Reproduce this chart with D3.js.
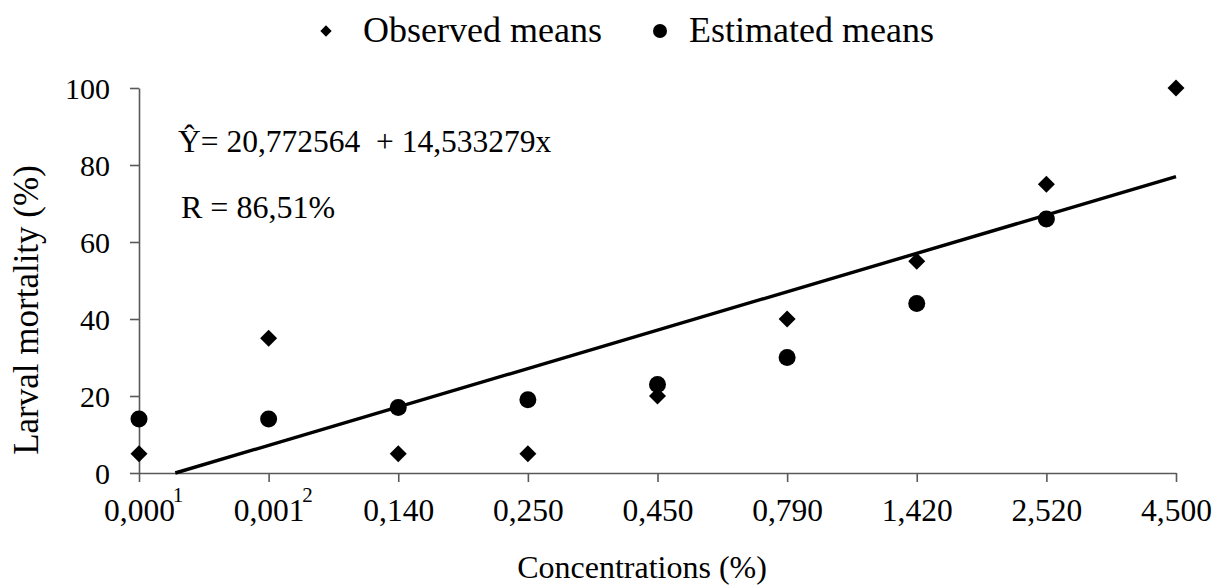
<!DOCTYPE html>
<html>
<head>
<meta charset="utf-8">
<script src="https://cdn.jsdelivr.net/npm/d3@7"></script>
<style>
  body { margin: 0; background: #fff; }
  svg text { font-family: "Liberation Serif", "Times New Roman", serif; fill: #000; }
</style>
</head>
<body>
<svg id="chart" width="1214" height="585"></svg>
<script>
// concentrations (%) shown on the x axis, with footnote marks
let concentrations = ["0,000", "0,001", "0,140", "0,250", "0,450", "0,790", "1,420", "2,520", "4,500"];
let footnotes = ["1", "2", "", "", "", "", "", "", ""];
// larval mortality (%)
let observedMeans = [5, 35, 5, 5, 20, 40, 55, 75, 100];
let estimatedMeans = [14, 14, 17, 19, 23, 30, 44, 66];
let yTicks = [0, 20, 40, 60, 80, 100];
// fitted line as drawn (category index, mortality)
let fitLine = [[0.28, 0], [8, 77]];

let svg = d3.select("#chart");

let x = d3.scaleLinear().domain([0, concentrations.length - 1]).range([139, 1176]);
let y = d3.scaleLinear().domain([0, 100]).range([473, 88]);

// y axis
let yAxis = svg.append("g")
    .attr("transform", "translate(" + x(0) + ",0)")
    .call(d3.axisLeft(y).tickValues(yTicks).tickSize(9).tickPadding(20).tickSizeOuter(0));

// x axis
let xAxis = svg.append("g")
    .attr("transform", "translate(0," + y(0) + ")")
    .call(d3.axisBottom(x).tickValues(d3.range(concentrations.length))
        .tickFormat(i => concentrations[i]).tickSize(9).tickPadding(16).tickSizeOuter(0));

[yAxis, xAxis].forEach(ax => {
    ax.select(".domain").attr("stroke", "#595959").attr("stroke-width", 1.6);
    ax.selectAll(".tick line").attr("stroke", "#595959").attr("stroke-width", 1.6);
    ax.selectAll(".tick text").attr("fill", "#000")
        .style("font-family", "'Liberation Serif', serif");
});
yAxis.selectAll(".tick text").attr("font-size", 30).attr("dy", "0.34em");
xAxis.selectAll(".tick text").attr("font-size", 31.5).attr("dy", "0.72em");

// footnote superscripts next to the first tick labels
xAxis.selectAll(".tick").each(function (i) {
    if (!footnotes[i]) return;
    let box = this.querySelector("text").getBBox();
    d3.select(this).append("text")
        .attr("x", box.x + box.width + 3)
        .attr("y", 29)
        .attr("font-size", 21)
        .text(footnotes[i]);
});

// fitted line
svg.append("path")
    .attr("d", d3.line().x(d => x(d[0])).y(d => y(d[1]))(fitLine))
    .attr("stroke", "#000").attr("stroke-width", 3.4).attr("fill", "none");

// estimated means (circles)
svg.append("g").selectAll("circle")
    .data(estimatedMeans)
    .enter().append("circle")
    .attr("cx", (d, i) => x(i))
    .attr("cy", d => y(d))
    .attr("r", 8.5)
    .attr("fill", "#000");

// observed means (diamonds)
let diamond = d3.symbol().type(d3.symbolSquare).size(144);
svg.append("g").selectAll("path")
    .data(observedMeans)
    .enter().append("path")
    .attr("d", diamond)
    .attr("transform", (d, i) => "translate(" + x(i) + "," + y(d) + ") rotate(45)")
    .attr("fill", "#000");

// equation and R
svg.append("text").attr("x", 178).attr("y", 152).attr("font-size", 31.5)
    .attr("xml:space", "preserve").style("white-space", "pre")
    .text("\u0176= 20,772564  + 14,533279x");
svg.append("text").attr("x", 181).attr("y", 218).attr("font-size", 32)
    .text("R = 86,51%");

// legend
let legend = svg.append("g");
legend.append("path").attr("d", d3.symbol().type(d3.symbolSquare).size(64))
    .attr("transform", "translate(326,31) rotate(45)").attr("fill", "#000");
legend.append("text").attr("x", 363).attr("y", 42).attr("font-size", 36).text("Observed means");
legend.append("circle").attr("cx", 660).attr("cy", 31).attr("r", 7).attr("fill", "#000");
legend.append("text").attr("x", 689).attr("y", 42).attr("font-size", 36).text("Estimated means");

// axis titles
svg.append("text").attr("x", 642).attr("y", 578).attr("font-size", 32)
    .attr("text-anchor", "middle").text("Concentrations (%)");
svg.append("text").attr("transform", "translate(38,310) rotate(-90)").attr("font-size", 35)
    .attr("text-anchor", "middle").text("Larval mortality (%)");
</script>
</body>
</html>
